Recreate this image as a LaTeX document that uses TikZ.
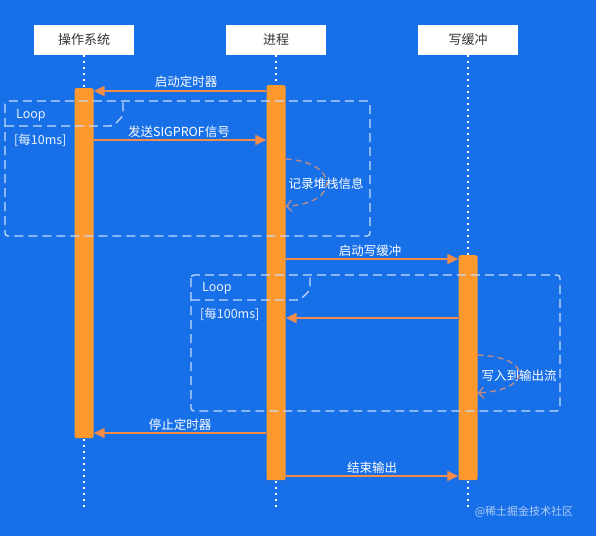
\documentclass[tikz,border=0pt]{standalone}
\usepackage{fontspec}
\setmainfont{Noto Sans CJK SC}
\usetikzlibrary{arrows.meta, positioning, calc}
\definecolor{bgblue}{RGB}{24,112,232}
\definecolor{barorange}{RGB}{255,153,46}
\definecolor{msgorange}{RGB}{242,140,72}
\definecolor{selforange}{RGB}{196,140,128}
\tikzset{
    head/.style={fill=white, text=black!80, minimum width=100pt, minimum height=30pt, inner sep=0pt, font=\fontsize{13}{15}\selectfont},
    lifeline/.style={draw=white, line width=2pt, dash pattern=on 2pt off 4pt},
    actbar/.style={fill=barorange, rounded corners=2pt, minimum width=19pt, inner sep=0pt, anchor=north},
    msg/.style={draw=msgorange, line width=1.6pt, -{Triangle[length=11pt,width=10pt]}},
    selfmsg/.style={draw=selforange, line width=1.3pt, dash pattern=on 6pt off 4pt, -{Straight Barb[length=5pt,width=11pt]}},
    msglabel/.style={text=white, font=\fontsize{12.5}{14}\selectfont, inner sep=1pt},
    loopframe/.style={draw=white!75!bgblue, line width=1.3pt, dash pattern=on 9pt off 5pt, rounded corners=3pt},
    framelabel/.style={text=white!90!bgblue, font=\fontsize{12.5}{14}\selectfont, anchor=west, inner sep=0pt}
}

\begin{document}
\begin{tikzpicture}[x=1pt, y=-1pt]
    \fill[bgblue] (0,0) rectangle (596,536);
    \useasboundingbox (0,0) rectangle (596,536);

    % participants
    \node [head] (os) at (84,40) {操作系统};
    \node [head] (proc) at (276,40) {进程};
    \node [head] (buf) at (468,40) {写缓冲};

    \coordinate (osend) at (84,507);
    \coordinate (procend) at (276,507);
    \coordinate (bufend) at (468,510);
    \draw [lifeline] (os.south) -- (osend);
    \draw [lifeline] (proc.south) -- (procend);
    \draw [lifeline] (buf.south) -- (bufend);

    % activation bars
    \node [actbar, minimum height=350pt] (osbar) at (84,88) {};
    \node [actbar, minimum height=395pt] (procbar) at (276,85) {};
    \node [actbar, minimum height=225pt] (bufbar) at (468,255) {};

    % loop frames
    \draw [loopframe] (5,101) rectangle (370,236);
    \draw [loopframe] (5,126) -- (113,126) -- (123,116) -- (123,101);
    \node [framelabel] (loop1) at (16,115) {Loop};
    \node [framelabel] (cond1) at (14,140) {[每10ms]};

    \draw [loopframe] (191,275) rectangle (560,411);
    \draw [loopframe] (191,300) -- (300,300) -- (310,290) -- (310,275);
    \node [framelabel] (loop2) at (202,288) {Loop};
    \node [framelabel] (cond2) at (200,314) {[每100ms]};

    % messages
    \node [msglabel] (m1) at (186,82) {启动定时器};
    \draw [msg] ([yshift=-2pt]procbar.west |- m1.south) -- ([yshift=-2pt]osbar.east |- m1.south);

    \node [msglabel] (m2) at (179,132) {发送SIGPROF信号};
    \draw [msg] ([yshift=-1pt]osbar.east |- m2.south) -- ([yshift=-1pt]procbar.west |- m2.south);

    \node [msglabel] (self1) at (326,184) {记录堆栈信息};
    \draw [selfmsg] ($(procbar.east |- self1)+(0,-25)$) .. controls (340,162) and (340,204) .. ($(procbar.east |- self1)+(0,22)$);

    \node [msglabel] (m3) at (370,251) {启动写缓冲};
    \draw [msg] ([yshift=-1pt]procbar.east |- m3.south) -- ([yshift=-1pt]bufbar.west |- m3.south);

    \coordinate (r1) at (370,318);
    \draw [msg] (bufbar.west |- r1) -- (procbar.east |- r1);

    \node [msglabel] (self2) at (519,376) {写入到输出流};
    \draw [selfmsg] ($(bufbar.east |- self2)+(0,-21)$) .. controls (534,357) and (532,390) .. ($(bufbar.east |- self2)+(0,17)$);

    \node [msglabel] (m4) at (180,425) {停止定时器};
    \draw [msg] ([yshift=-1pt]procbar.west |- m4.south) -- ([yshift=-1pt]osbar.east |- m4.south);

    \node [msglabel] (m5) at (372,468) {结束输出};
    \draw [msg] ([yshift=-1pt]procbar.east |- m5.south) -- ([yshift=-1pt]bufbar.west |- m5.south);

    \node [text=white!65!bgblue, font=\fontsize{11}{13}\selectfont] (wm) at (524,512) {@稀土掘金技术社区};
\end{tikzpicture}
\end{document}
